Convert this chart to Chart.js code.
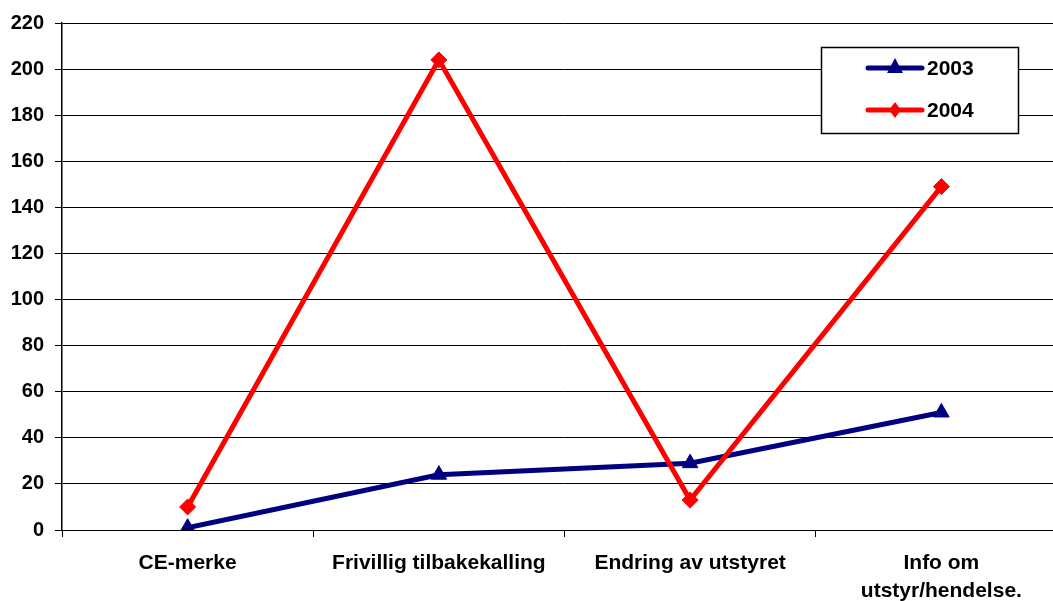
<!DOCTYPE html>
<html>
<head>
<meta charset="utf-8">
<script src="https://cdn.jsdelivr.net/npm/chart.js@4/dist/chart.umd.min.js"></script>
<style>
  html, body { margin: 0; padding: 0; background: #fff; overflow: hidden; }
  canvas { display: block; }
</style>
</head>
<body>
<canvas id="c" width="1068" height="601" style="width:1068px;height:601px"></canvas>
<script>
// Categories (x axis) and yearly counts
const categories = ['CE-merke', 'Frivillig tilbakekalling', 'Endring av utstyret', ['Info om', 'utstyr/hendelse.']];
const values2003 = [1, 24, 29, 51];
const values2004 = [10, 204, 13, 149];
const yTicks = [0, 20, 40, 60, 80, 100, 120, 140, 160, 180, 200, 220];

const FAMILY = '"Liberation Sans", Arial, sans-serif';
const X_FONT = { family: FAMILY, size: 21, weight: 'bold', lineHeight: 1.33 };
const Y_FONT = { family: FAMILY, size: 20, weight: 'bold' };

// Boxed legend drawn inside the plot area, top right
const boxLegend = {
  id: 'boxLegend',
  afterDraw(chart) {
    const ctx = chart.ctx;
    const x0 = 821, y0 = 47, w = 197, h = 86;
    ctx.save();
    ctx.fillStyle = '#fff';
    ctx.fillRect(x0, y0, w, h);
    ctx.strokeStyle = '#000';
    ctx.lineWidth = 1.5;
    ctx.strokeRect(x0 + 0.5, y0 + 0.5, w, h);
    const rows = [68, 110];
    chart.data.datasets.forEach((ds, i) => {
      const y = rows[i];
      ctx.strokeStyle = ds.borderColor;
      ctx.lineWidth = 5;
      ctx.lineCap = 'round';
      ctx.beginPath();
      ctx.moveTo(868, y);
      ctx.lineTo(922, y);
      ctx.stroke();
      ctx.fillStyle = ds.borderColor;
      ctx.beginPath();
      const cx = 895;
      if (ds.pointStyle === 'triangle') {
        ctx.moveTo(cx, y - 10);
        ctx.lineTo(cx + 8, y + 5);
        ctx.lineTo(cx - 8, y + 5);
      } else {
        ctx.moveTo(cx, y - 8);
        ctx.lineTo(cx + 6, y);
        ctx.lineTo(cx, y + 8);
        ctx.lineTo(cx - 6, y);
      }
      ctx.closePath();
      ctx.fill();
      ctx.fillStyle = '#000';
      ctx.font = `bold 21px ${FAMILY}`;
      ctx.textBaseline = 'middle';
      ctx.textAlign = 'left';
      ctx.fillText(ds.label, 927, y + 1);
    });
    ctx.restore();
  }
};

new Chart(document.getElementById('c'), {
  type: 'line',
  data: {
    labels: categories,
    datasets: [
      {
        label: '2003',
        data: values2003,
        borderColor: '#000080',
        backgroundColor: '#000080',
        borderWidth: 5,
        pointStyle: 'triangle',
        pointRadius: 9,
        pointBorderWidth: 1,
        tension: 0,
        order: 1
      },
      {
        label: '2004',
        data: values2004,
        borderColor: '#ff0000',
        backgroundColor: '#ff0000',
        borderWidth: 5,
        pointStyle: 'rectRot',
        pointRadius: 8,
        pointBorderWidth: 1,
        tension: 0,
        order: 0
      }
    ]
  },
  options: {
    responsive: false,
    animation: false,
    devicePixelRatio: 1,
    layout: { autoPadding: false, padding: { top: 22, right: 1, left: 0, bottom: 0 } },
    plugins: {
      legend: { display: false },
      tooltip: { enabled: false }
    },
    scales: {
      x: {
        offset: true,
        grid: { offset: true, drawOnChartArea: false, drawTicks: true, tickLength: 7, color: '#000', lineWidth: 1 },
        border: { display: true, color: '#000', width: 1 },
        ticks: { color: '#000', font: X_FONT, padding: 12, maxRotation: 0, autoSkip: false },
        afterFit(scale) { scale.height = 71; }
      },
      y: {
        min: 0,
        max: 220,
        afterBuildTicks(scale) { scale.ticks = yTicks.map(v => ({ value: v })); },
        grid: { color: '#000', lineWidth: 1, tickLength: 7, drawTicks: true },
        border: { display: true, color: '#000', width: 1.5 },
        ticks: { color: '#000', font: Y_FONT, padding: 11 },
        afterFit(scale) { scale.width = 62; }
      }
    }
  },
  plugins: [boxLegend]
});
</script>
</body>
</html>
